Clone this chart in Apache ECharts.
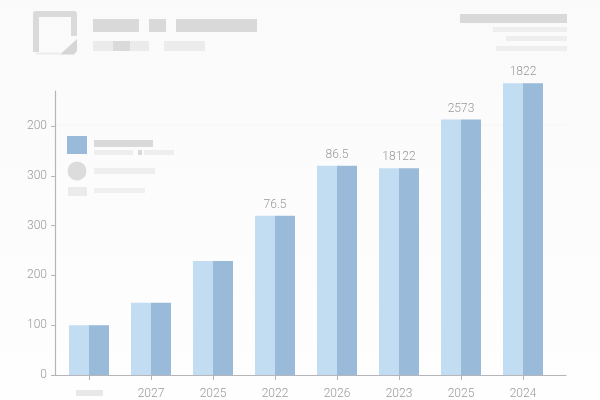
<!DOCTYPE html>
<html>
<head>
<meta charset="utf-8">
<style>html,body{margin:0;padding:0;background:#fbfbfb}#c{width:600px;height:400px}</style>
<script src="https://cdn.jsdelivr.net/npm/echarts@6/dist/echarts.min.js"></script>
</head>
<body>
<div id="c"></div>
<script>
const categories = ["", "2027", "2025", "2022", "2026", "2023", "2025", "2024"];
const seriesLight = [100, 145, 229, 320, 420, 415, 513, 586];
const seriesDark = [100, 145, 229, 320, 420, 415, 513, 586];
const valueLabels = ["", "", "", "76.5", "86.5", "18122", "2573", "1822"];
const yTickValues = [0, 100, 200, 300, 400, 500];
const yTickLabels = ["0", "100", "200", "300", "300", "200"];

const axisGrey = "#b6b6ba";
const textGrey = "#9a9a9e";
const block = (x, y, w, h, fill, r) => ({type: "rect", shape: {x, y, width: w, height: h, r: r || 0}, style: {fill}, silent: true});
const poly = (points, fill) => ({type: "polygon", shape: {points}, style: {fill}, silent: true});

const chart = echarts.init(document.getElementById("c"), null, {renderer: "canvas"});
chart.setOption({
  animation: false,
  backgroundColor: {type: "linear", x: 0, y: 0, x2: 0, y2: 1, colorStops: [
    {offset: 0, color: "#fafafa"}, {offset: 0.45, color: "#fcfcfc"}, {offset: 1, color: "#fefefe"}]},
  grid: [
    {left: 55, right: 34, top: 91.1, height: 283.9},
    {left: 58, width: 496, top: 76.2, height: 298.8}
  ],
  xAxis: [
    {gridIndex: 0, type: "category", data: categories, axisLine: {lineStyle: {color: axisGrey, width: 1.2}}, axisTick: {show: false}, axisLabel: {show: false}},
    {gridIndex: 1, type: "category", data: categories, axisLine: {show: false},
      axisTick: {show: true, alignWithLabel: true, length: 5, lineStyle: {color: axisGrey}},
      axisLabel: {color: textGrey, fontSize: 12, fontWeight: 300, fontFamily: "Roboto", margin: 13, interval: 0}}
  ],
  yAxis: [
    {gridIndex: 0, type: "value", min: 0, max: 570, interval: 100,
      axisLine: {show: true, lineStyle: {color: axisGrey, width: 1.2}},
      axisTick: {show: true, length: 4, lineStyle: {color: axisGrey}, customValues: yTickValues},
      axisLabel: {color: textGrey, fontSize: 12, fontWeight: 300, fontFamily: "Roboto", margin: 8, customValues: yTickValues,
        formatter: (v) => yTickLabels[yTickValues.indexOf(v)]},
      splitLine: {show: false}},
    {gridIndex: 1, type: "value", min: 0, max: 600, show: false, splitLine: {show: false}}
  ],
  series: [
    {type: "bar", xAxisIndex: 1, yAxisIndex: 1, data: seriesLight, barWidth: 20, barGap: 0,
      itemStyle: {color: "#c2dcf2"},
      label: {show: true, position: "top", distance: 5, offset: [10, 0], color: textGrey, fontSize: 12, fontWeight: 300, fontFamily: "Roboto",
        formatter: (p) => valueLabels[p.dataIndex]}},
    {type: "bar", xAxisIndex: 1, yAxisIndex: 1, data: seriesDark, barWidth: 20, barGap: 0,
      itemStyle: {color: "#9abad9"}}
  ],
  graphic: [
    // faint gridline at the top tick
    block(56, 124.5, 510, 1, "#f6f6f6"),
    // header logo
    {type: "polyline", shape: {points: [[36,52],[36,14],[74,14],[74,36]]}, style: {stroke: "#dadada", lineWidth: 6, lineJoin: "round", fill: null}, silent: true},
    block(36, 52.5, 24, 2, "#ececec"),
    poly([[60,54.5],[77,39],[77,51],[74,54.5]], "#d6d6d6"),
    // header text placeholders
    block(93, 19, 46, 13, "#d9d9d9"),
    block(149, 19, 17, 13, "#d9d9d9"),
    block(176, 19, 81, 13, "#d9d9d9"),
    block(93, 41, 56, 10, "#ebebeb"),
    block(113, 41, 17, 10, "#dadada"),
    block(164, 41, 41, 10, "#ececec"),
    // top right placeholders
    block(460, 14, 107, 9, "#d9d9d9"),
    block(493, 27, 74, 5, "#eeeeee"),
    block(506, 36, 61, 5, "#eeeeee"),
    block(496, 46, 71, 5, "#eeeeee"),
    // inner legend placeholders
    block(67, 136, 20, 18, "#9abad9"),
    block(94, 140, 59, 7, "#d9d9d9"),
    block(94, 150, 39, 5, "#eeeeee"),
    block(138, 150, 4, 5, "#d9d9d9"),
    block(144, 150, 30, 5, "#eeeeee"),
    {type: "circle", shape: {cx: 77, cy: 171, r: 9.5}, style: {fill: "#dcdcdc"}, silent: true},
    block(94, 168, 61, 6, "#eeeeee"),
    block(68, 187, 19, 9, "#ebebeb"),
    block(94, 188, 51, 5, "#f0f0f0"),
    // first category placeholder
    block(76, 390, 27, 6, "#e8e8e8")
  ]
});
</script>
</body>
</html>
